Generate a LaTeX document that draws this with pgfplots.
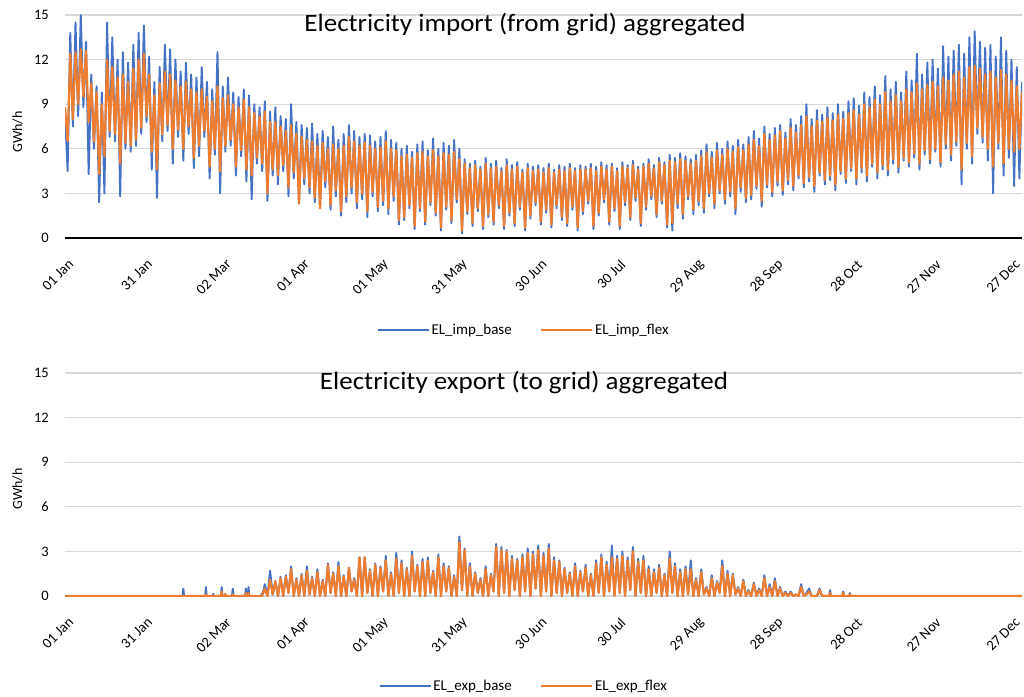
\documentclass[border=0pt]{standalone}
\usepackage{fontspec}
\setmainfont{Carlito}
\usepackage{pgfplots}
\usepackage{pgfplotstable}
\pgfplotsset{compat=1.18}
\definecolor{xlblue}{HTML}{4472C4}
\definecolor{xlorange}{HTML}{ED7D31}
\definecolor{xlgrid}{HTML}{D9D9D9}

% import from grid, one high / low reading per day (GWh/h)
\pgfplotstableread{
d b f
0 8.5 8.8
1 4.5 6.5
2 13.8 12.4
3 7.5 8.0
4 14.5 12.5
5 8.2 9.0
6 15.0 12.7
7 8.8 9.5
8 13.2 12.6
9 4.3 7.8
10 11.0 10.4
11 6.0 6.5
12 10.2 9.8
13 2.4 4.3
14 9.8 9.0
15 3.0 5.5
16 14.5 12.0
17 6.8 7.2
18 13.5 11.5
19 6.5 7.0
20 12.0 10.8
21 2.8 5.0
22 12.5 11.0
23 6.0 6.4
24 11.8 10.5
25 5.8 6.2
26 13.0 11.4
27 6.2 6.6
28 13.8 12.0
29 7.0 7.4
30 14.3 12.4
31 7.8 8.2
32 12.2 11.0
33 4.6 5.8
34 10.5 9.6
35 2.7 4.6
36 11.5 10.4
37 6.5 7.0
38 13.0 11.2
39 7.2 7.6
40 12.7 11.0
41 5.0 6.0
42 12.0 10.6
43 6.8 7.3
44 11.2 10.2
45 5.2 6.0
46 11.8 10.5
47 7.0 7.5
48 11.0 10.0
49 4.7 5.4
50 10.8 9.8
51 5.5 6.2
52 11.5 10.0
53 6.8 7.2
54 10.5 9.5
55 4.0 4.8
56 10.0 9.2
57 5.6 6.0
58 12.5 10.2
59 3.0 4.5
60 10.2 9.4
61 5.8 6.2
62 10.8 9.6
63 6.2 6.6
64 9.8 9.0
65 4.2 4.8
66 9.5 8.8
67 5.5 5.9
68 10.0 9.3
69 3.8 4.6
70 9.6 8.8
71 2.6 4.2
72 9.0 8.4
73 5.0 5.4
74 8.8 8.2
75 4.5 5.0
76 9.2 8.5
77 2.5 3.0
78 8.5 7.8
79 4.2 4.6
80 8.8 7.8
81 3.6 4.2
82 8.2 7.5
83 4.5 4.9
84 8.0 7.2
85 2.8 3.4
86 9.0 7.6
87 4.0 4.4
88 7.8 7.0
89 2.4 2.3
90 7.6 6.8
91 3.6 4.0
92 7.4 6.6
93 3.0 3.4
94 7.7 6.5
95 2.4 2.7
96 7.0 6.2
97 2.1 2.0
98 7.2 6.4
99 3.4 3.8
100 6.8 6.0
101 1.9 2.2
102 7.5 6.3
103 2.8 3.2
104 6.6 6.0
105 1.5 1.8
106 7.0 6.2
107 2.4 2.8
108 7.6 6.8
109 3.0 3.4
110 7.2 6.5
111 2.0 2.4
112 6.8 6.2
113 2.6 3.0
114 7.0 6.4
115 1.4 1.8
116 6.9 6.2
117 2.8 3.1
118 6.5 6.0
119 1.8 2.1
120 6.8 6.1
121 2.2 2.5
122 7.2 6.5
123 1.6 2.0
124 6.6 6.0
125 2.5 2.8
126 6.4 5.9
127 0.9 1.2
128 6.0 5.5
129 1.2 1.4
130 6.2 5.6
131 2.0 2.2
132 5.8 5.4
133 0.6 0.8
134 6.3 5.7
135 1.8 2.0
136 6.5 5.8
137 0.9 1.1
138 5.9 5.5
139 2.2 2.4
140 6.7 5.9
141 1.5 1.7
142 6.0 5.5
143 0.5 0.7
144 6.4 5.7
145 1.9 2.1
146 6.2 5.6
147 1.0 1.2
148 6.6 5.8
149 2.4 2.6
150 6.0 5.3
151 0.3 0.5
152 5.3 5.0
153 1.6 1.8
154 5.0 4.7
155 0.8 1.0
156 5.2 4.9
157 1.8 2.0
158 4.8 4.6
159 0.6 0.8
160 5.4 5.0
161 1.4 1.6
162 5.0 4.7
163 0.9 1.1
164 5.2 4.8
165 2.0 2.2
166 4.7 4.5
167 0.6 0.8
168 5.3 4.9
169 1.5 1.7
170 4.9 4.6
171 0.8 1.0
172 5.1 4.8
173 1.9 2.1
174 4.6 4.4
175 0.5 0.7
176 5.0 4.7
177 1.3 1.5
178 4.8 4.5
179 2.2 2.4
180 4.9 4.6
181 0.9 1.1
182 4.7 4.4
183 1.7 1.9
184 5.0 4.7
185 0.7 0.9
186 4.6 4.4
187 2.0 2.2
188 4.9 4.6
189 1.2 1.4
190 4.8 4.5
191 0.8 1.0
192 5.0 4.7
193 1.9 2.1
194 4.7 4.5
195 0.5 0.7
196 4.9 4.6
197 1.6 1.8
198 4.8 4.6
199 2.3 2.5
200 5.0 4.7
201 0.6 0.8
202 4.8 4.5
203 1.5 1.7
204 5.1 4.8
205 2.4 2.6
206 4.9 4.6
207 0.9 1.1
208 5.0 4.8
209 1.8 2.0
210 4.7 4.5
211 0.6 0.8
212 5.1 4.8
213 2.2 2.4
214 4.9 4.7
215 1.2 1.4
216 5.2 4.9
217 2.5 2.7
218 4.8 4.6
219 0.8 1.0
220 5.0 4.8
221 1.9 2.1
222 5.3 5.0
223 2.6 2.8
224 4.9 4.7
225 1.4 1.6
226 5.4 5.1
227 2.3 2.5
228 5.1 4.9
229 0.7 0.9
230 5.6 5.2
231 0.5 1.0
232 5.4 5.1
233 2.0 2.3
234 5.7 5.3
235 1.3 1.6
236 5.5 5.2
237 2.6 2.8
238 5.3 5.0
239 1.6 1.9
240 5.6 5.2
241 2.2 2.5
242 5.9 5.5
243 1.7 2.0
244 6.3 5.8
245 2.8 3.0
246 5.8 5.4
247 2.0 2.3
248 6.4 5.9
249 3.0 3.2
250 6.0 5.6
251 2.3 2.6
252 6.5 6.0
253 2.8 3.1
254 6.2 5.8
255 1.6 2.0
256 6.6 6.1
257 3.1 3.4
258 6.3 5.9
259 2.4 2.7
260 6.8 6.3
261 2.6 2.9
262 7.2 6.6
263 3.3 3.5
264 6.7 6.2
265 2.1 2.5
266 7.5 7.0
267 3.4 3.6
268 7.0 6.6
269 2.8 3.1
270 7.4 6.9
271 3.5 3.8
272 7.6 7.2
273 2.9 3.2
274 7.1 6.7
275 3.6 3.9
276 8.0 7.4
277 3.2 3.5
278 7.6 7.1
279 4.0 4.2
280 8.2 7.6
281 3.4 3.7
282 9.0 8.2
283 3.8 4.1
284 8.0 7.5
285 3.1 3.5
286 8.6 7.9
287 4.2 4.4
288 8.3 7.8
289 3.6 3.9
290 8.8 8.1
291 3.9 4.2
292 8.4 7.9
293 3.2 3.6
294 9.0 8.3
295 4.3 4.5
296 8.5 8.0
297 3.7 4.0
298 9.2 8.4
299 4.5 4.7
300 9.4 8.6
301 3.6 4.0
302 8.9 8.3
303 4.4 4.7
304 9.8 9.0
305 3.8 4.2
306 9.5 8.8
307 4.8 5.0
308 10.2 9.3
309 4.0 4.4
310 9.6 9.0
311 4.6 4.9
312 10.9 9.8
313 4.2 4.6
314 10.0 9.2
315 5.0 5.3
316 10.5 9.6
317 4.4 4.8
318 9.8 9.2
319 5.2 5.4
320 11.2 10.0
321 4.8 5.1
322 10.6 9.8
323 5.4 5.7
324 12.4 10.4
325 4.6 5.0
326 11.0 10.0
327 5.6 5.9
328 11.8 10.3
329 5.0 5.3
330 12.0 10.5
331 5.8 6.0
332 11.4 10.2
333 4.8 5.1
334 12.9 10.8
335 6.0 6.3
336 12.2 10.6
337 5.2 5.6
338 12.6 11.0
339 6.2 6.5
340 13.0 11.2
341 3.6 4.6
342 12.4 10.8
343 6.0 6.4
344 13.5 11.5
345 5.0 5.5
346 13.9 11.6
347 7.0 7.4
348 13.2 11.4
349 6.4 6.8
350 12.8 11.0
351 5.2 6.0
352 13.0 11.2
353 3.0 4.8
354 12.2 10.8
355 6.0 6.4
356 13.5 11.3
357 4.2 5.0
358 12.6 11.0
359 5.4 6.0
360 12.0 10.6
361 3.5 5.8
362 11.5 10.2
363 4.0 6.0
364 10.5 9.8
}\impdata

% export to grid (GWh/h)
\pgfplotstableread{
d b f
0 0 0
44.7 0 0
45 0.5 0
45.3 0 0
53.3 0 0
53.6 0.6 0.1
53.9 0 0
56.2 0 0
56.4 0.15 0
56.6 0 0
59.3 0 0
59.6 0.6 0.3
59.9 0 0
60.8 0 0
61 0.1 0.15
61.2 0 0
63.5 0 0
63.8 0.5 0.1
64.1 0 0
68.5 0 0
68.8 0.5 0.2
69.1 0 0
69.5 0 0
69.8 0.6 0.2
70.1 0 0
74.6 0 0
74.8 0.15 0
75 0 0
76 0.8 0.5
77 0 0
78 1.7 1.1
79 0.1 0.1
80 1.0 1.0
81 0 0
82 1.3 1.2
83 0 0
84 1.4 1.3
85 0.2 0.2
86 2.0 1.8
87 0 0
88 1.2 1.1
89 0 0
90 1.5 1.4
91 0 0
92 2.0 1.7
93 0.1 0.1
94 1.3 1.2
95 0 0
96 1.8 1.6
97 0 0
98 1.1 1.0
99 0 0
100 2.2 2.1
101 0.2 0.2
102 1.6 1.5
103 0 0
104 2.3 2.0
105 0 0
106 1.4 1.3
107 0 0
108 1.9 1.9
109 0.3 0.3
110 1.2 1.1
111 0 0
112 2.6 2.6
113 0 0
114 2.6 2.6
115 0.2 0.2
116 1.8 1.7
117 0 0
118 2.2 2.1
119 0 0
120 2.0 1.9
121 0.3 0.3
122 2.7 2.4
123 0 0
124 1.6 1.5
125 0 0
126 2.9 2.5
127 0.2 0.2
128 2.4 2.2
129 0 0
130 1.9 1.8
131 0 0
132 3.0 2.7
133 0.3 0.3
134 2.1 2.0
135 0 0
136 2.5 2.3
137 0 0
138 2.6 2.4
139 0.2 0.2
140 1.7 1.6
141 0 0
142 2.8 2.6
143 0 0
144 2.2 2.0
145 0.3 0.3
146 2.0 1.9
147 0 0
148 1.4 1.3
149 0 0
150 4.0 3.6
151 0.4 0.4
152 3.2 3.1
153 0 0
154 2.2 2.0
155 0 0
156 1.6 1.5
157 0.2 0.2
158 1.2 1.1
159 0 0
160 2.0 1.8
161 0 0
162 1.5 1.4
163 0.3 0.3
164 3.5 3.3
165 0 0
166 3.3 3.1
167 0.2 0.2
168 3.1 3.0
169 0 0
170 2.7 2.5
171 0.4 0.4
172 2.5 2.4
173 0 0
174 2.8 2.6
175 0.3 0.3
176 3.2 2.9
177 0 0
178 3.0 2.8
179 0.5 0.5
180 3.4 3.1
181 0 0
182 2.9 2.7
183 0.3 0.3
184 3.5 3.2
185 0 0
186 2.6 2.4
187 0.2 0.2
188 2.4 2.3
189 0 0
190 1.9 1.8
191 0.2 0.2
192 1.6 1.5
193 0 0
194 2.2 2.0
195 0 0
196 1.7 1.6
197 0.3 0.3
198 2.1 1.9
199 0 0
200 1.5 1.4
201 0 0
202 2.4 2.2
203 0.2 0.2
204 2.8 2.6
205 0 0
206 2.3 2.1
207 0.3 0.3
208 3.4 2.6
209 0 0
210 2.7 2.5
211 0.2 0.2
212 3.0 2.7
213 0 0
214 2.6 2.4
215 0.4 0.4
216 3.3 3.0
217 0 0
218 2.5 2.3
219 0.2 0.2
220 2.7 2.4
221 0 0
222 2.0 1.8
223 0 0
224 1.8 1.6
225 0.2 0.2
226 2.1 1.9
227 0 0
228 1.5 1.4
229 0 0
230 3.0 2.5
231 0.2 0.2
232 2.2 2.0
233 0 0
234 1.8 1.6
235 0 0
236 2.0 1.8
237 0.1 0.1
238 2.4 1.8
239 0 0
240 1.2 1.1
241 0 0
242 1.8 1.6
243 0.1 0.1
244 0.6 0.5
245 0 0
246 1.4 1.2
247 0 0
248 1.0 0.9
249 0.2 0.2
250 2.4 2.0
251 0 0
252 1.7 1.5
253 0 0
254 1.5 1.4
255 0.1 0.1
256 0.6 0.5
257 0 0
258 1.1 1.0
259 0 0
260 0.4 0.3
261 0 0
262 0.9 0.8
263 0 0
264 0.5 0.4
265 0 0
266 1.4 1.2
267 0 0
268 0.8 0.6
269 0 0
270 1.2 1.0
271 0 0
272 0.6 0.5
273 0 0
274 0.3 0.2
275 0 0
276 0.3 0.2
277 0 0
278 0.1 0.1
279 0 0
280 0.8 0.6
281 0 0
282 0.2 0.1
283 0.5 0.3
284 0 0
286 0 0
287 0.5 0.4
288 0 0
290.6 0 0
291 0.4 0.2
291.4 0 0
295.6 0 0
296 0.3 0.2
296.4 0 0
298.2 0 0
298.5 0.2 0.1
298.8 0 0
364 0 0
}\expdata

\pgfplotsset{
  panel/.style={
    scale only axis, width=957pt, height=223pt,
    anchor=south west,
    xmin=0, xmax=364, ymin=0, ymax=15,
    xtick={0,30,...,360},
    xticklabels={01 Jan,31 Jan,02 Mar,01 Apr,01 May,31 May,30 Jun,30 Jul,29 Aug,28 Sep,28 Oct,27 Nov,27 Dec},
    ytick={0,3,...,15},
    ymajorgrids, major grid style={xlgrid, line width=1.3pt},
    axis line style={draw=none},
    major tick length=0pt, tick style={draw=none},
    tick label style={font=\fontsize{14.5}{16}\selectfont},
    /pgf/number format/assume math mode=true,
    yticklabel style={inner sep=0pt, xshift=-16pt},
    xticklabel style={anchor=east, inner sep=0pt, xshift=6pt, yshift=-24pt, rotate=45},
    legend columns=2,
    legend style={draw=none, fill=none, anchor=center,
      font=\fontsize{15}{18}\selectfont,
      /tikz/every even column/.append style={column sep=27pt}},
    legend image code/.code={\draw[#1, line width=1.2pt] (0pt,0pt) -- (51pt,0pt);},
  },
  base/.style={xlblue, line width=1.9pt, line join=round},
  flex/.style={xlorange, line width=2.2pt, line join=round},
}

\begin{document}
\begin{tikzpicture}
\path[use as bounding box] (0,0) rectangle (1024pt,696pt);

\begin{axis}[panel, at={(65pt,458pt)},
  extra y ticks={0}, extra y tick labels={},
  extra y tick style={major grid style={black, line width=1.6pt}},
  legend style={at={(0.4796,-0.4126)}}]
\addplot[base] table[x=d, y=b] {\impdata};
\addlegendentry{EL\_imp\_base}
\addplot[flex] table[x=d, y=f] {\impdata};
\addlegendentry{EL\_imp\_flex}
\end{axis}
\node[anchor=base, xscale=1.08, font=\fontsize{25}{30}\selectfont] at (525pt,664pt) {Electricity import (from grid) aggregated};
\node[rotate=90, font=\fontsize{14}{16}\selectfont] at (17.5pt,564pt) {GWh/h};

\begin{axis}[panel, at={(65pt,100pt)},
  legend style={at={(0.4796,-0.4036)}}]
\addplot[base] table[x=d, y=b] {\expdata};
\addlegendentry{EL\_exp\_base}
\addplot[flex] table[x=d, y=f] {\expdata};
\addlegendentry{EL\_exp\_flex}
\end{axis}
\node[anchor=base, xscale=1.08, font=\fontsize{25}{30}\selectfont] at (524pt,306pt) {Electricity export (to grid) aggregated};
\node[rotate=90, font=\fontsize{14}{16}\selectfont] at (17.5pt,207pt) {GWh/h};
\end{tikzpicture}
\end{document}
